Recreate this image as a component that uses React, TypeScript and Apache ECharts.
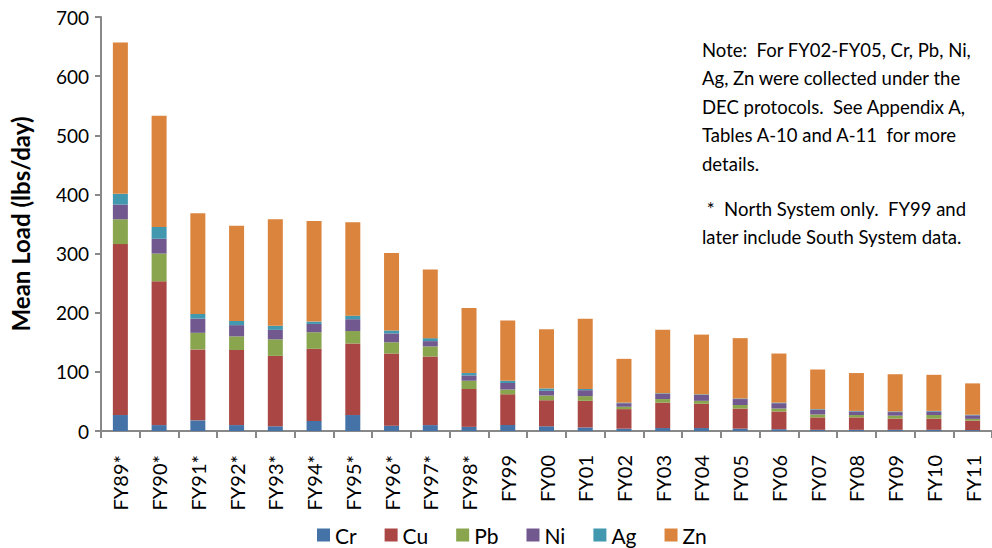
import React, { useEffect, useRef } from "react";
import * as echarts from "echarts";

const categories = ["FY89*", "FY90*", "FY91*", "FY92*", "FY93*", "FY94*", "FY95*", "FY96*", "FY97*", "FY98*", "FY99", "FY00", "FY01", "FY02", "FY03", "FY04", "FY05", "FY06", "FY07", "FY08", "FY09", "FY10", "FY11"];
const crValues = [27, 10, 18, 10, 8, 17, 27, 9, 10, 7, 10, 8, 6, 4, 5, 5, 4, 3, 2, 2, 2, 2, 1.5];
const cuValues = [289, 243, 120, 127, 119, 122, 121, 122, 116, 64, 52, 44, 45, 33, 43, 41, 34, 30, 21, 21, 19, 19, 16];
const pbValues = [42, 47, 28, 23, 28, 28, 21, 19, 17, 14, 8, 8, 8, 4, 6, 5, 6, 5, 5, 4, 5, 6, 3];
const niValues = [25, 25, 24, 19, 16, 14, 20, 15, 9, 9, 11, 8, 10, 6, 9, 10, 10, 9, 8, 6, 6, 6, 6];
const agValues = [18, 20, 8, 7, 7, 4, 6, 5, 5, 4, 4, 4, 2, 1, 1, 1, 1, 1, 1, 1, 1, 1, 1];
const znValues = [256, 188, 170, 161, 180, 170, 158, 131, 116, 110, 102, 100, 119, 74, 107, 101, 102, 83, 67, 64, 63, 61, 53];

const seriesNames = ["Cr", "Cu", "Pb", "Ni", "Ag", "Zn"];
const seriesColors = ["#4572A7", "#AA4643", "#89A54E", "#71588F", "#4198AF", "#DB843D"];
const seriesData = [crValues, cuValues, pbValues, niValues, agValues, znValues];

const noteLines = [
  "Note:  For FY02-FY05, Cr, Pb, Ni,",
  "Ag, Zn were collected under the",
  "DEC protocols.  See Appendix A,",
  "Tables A-10 and A-11  for more",
  "details.",
];
const footLines = [" *  North System only.  FY99 and", "later include South System data."];

const FONT = "Lato, 'Noto Sans', sans-serif";

export default function App() {
  const ref = useRef<HTMLDivElement>(null);
  useEffect(() => {
    if (!ref.current) return;
    const chart = echarts.init(ref.current, null, { renderer: "svg" });
    const axisColor = "#888888";
    chart.setOption({
      animation: false,
      textStyle: { fontFamily: FONT },
      grid: { left: 101, right: 0, top: 17, bottom: 117 },
      legend: {
        data: seriesNames,
        left: 317,
        top: 523,
        padding: 0,
        itemWidth: 13,
        itemHeight: 13,
        itemGap: 28,
        icon: "rect",
        textStyle: { fontFamily: FONT, fontSize: 21, color: "#000", lineHeight: 24 },
      },
      xAxis: {
        type: "category",
        data: categories,
        axisLine: { lineStyle: { color: axisColor, width: 2 } },
        axisTick: { show: true, length: 7, lineStyle: { color: axisColor, width: 2 }, alignWithLabel: false },
        axisLabel: { rotate: 90, fontSize: 20, color: "#000", margin: 24, fontFamily: FONT, interval: 0 },
      },
      yAxis: {
        type: "value",
        min: 0,
        max: 700,
        interval: 100,
        name: "Mean Load (lbs/day)",
        nameLocation: "middle",
        nameGap: 69,
        nameTextStyle: { fontSize: 24, fontWeight: "bold", color: "#000", fontFamily: FONT },
        axisLine: { show: true, lineStyle: { color: axisColor, width: 2 } },
        axisTick: { show: true, length: 6, lineStyle: { color: axisColor, width: 2 } },
        splitLine: { show: false },
        axisLabel: { fontSize: 19, color: "#000", margin: 12, fontFamily: FONT },
      },
      series: seriesNames.map((name, i) => ({
        name,
        type: "bar",
        stack: "total",
        barWidth: 15,
        data: seriesData[i],
        itemStyle: { color: seriesColors[i] },
      })),
      graphic: [
        ...noteLines.map((t, i) => ({
          type: "text",
          left: 702,
          top: 40 + i * 28.5,
          style: { text: t, fontSize: 18.5, fontFamily: FONT, fill: "#000" },
        })),
        ...footLines.map((t, i) => ({
          type: "text",
          left: 702,
          top: 199 + i * 28.5,
          style: { text: t, fontSize: 18.5, fontFamily: FONT, fill: "#000" },
        })),
      ],
    });
    return () => chart.dispose();
  }, []);
  return <div ref={ref} style={{ width: 992, height: 548, position: "absolute", left: 0, top: 0 }} />;
}
